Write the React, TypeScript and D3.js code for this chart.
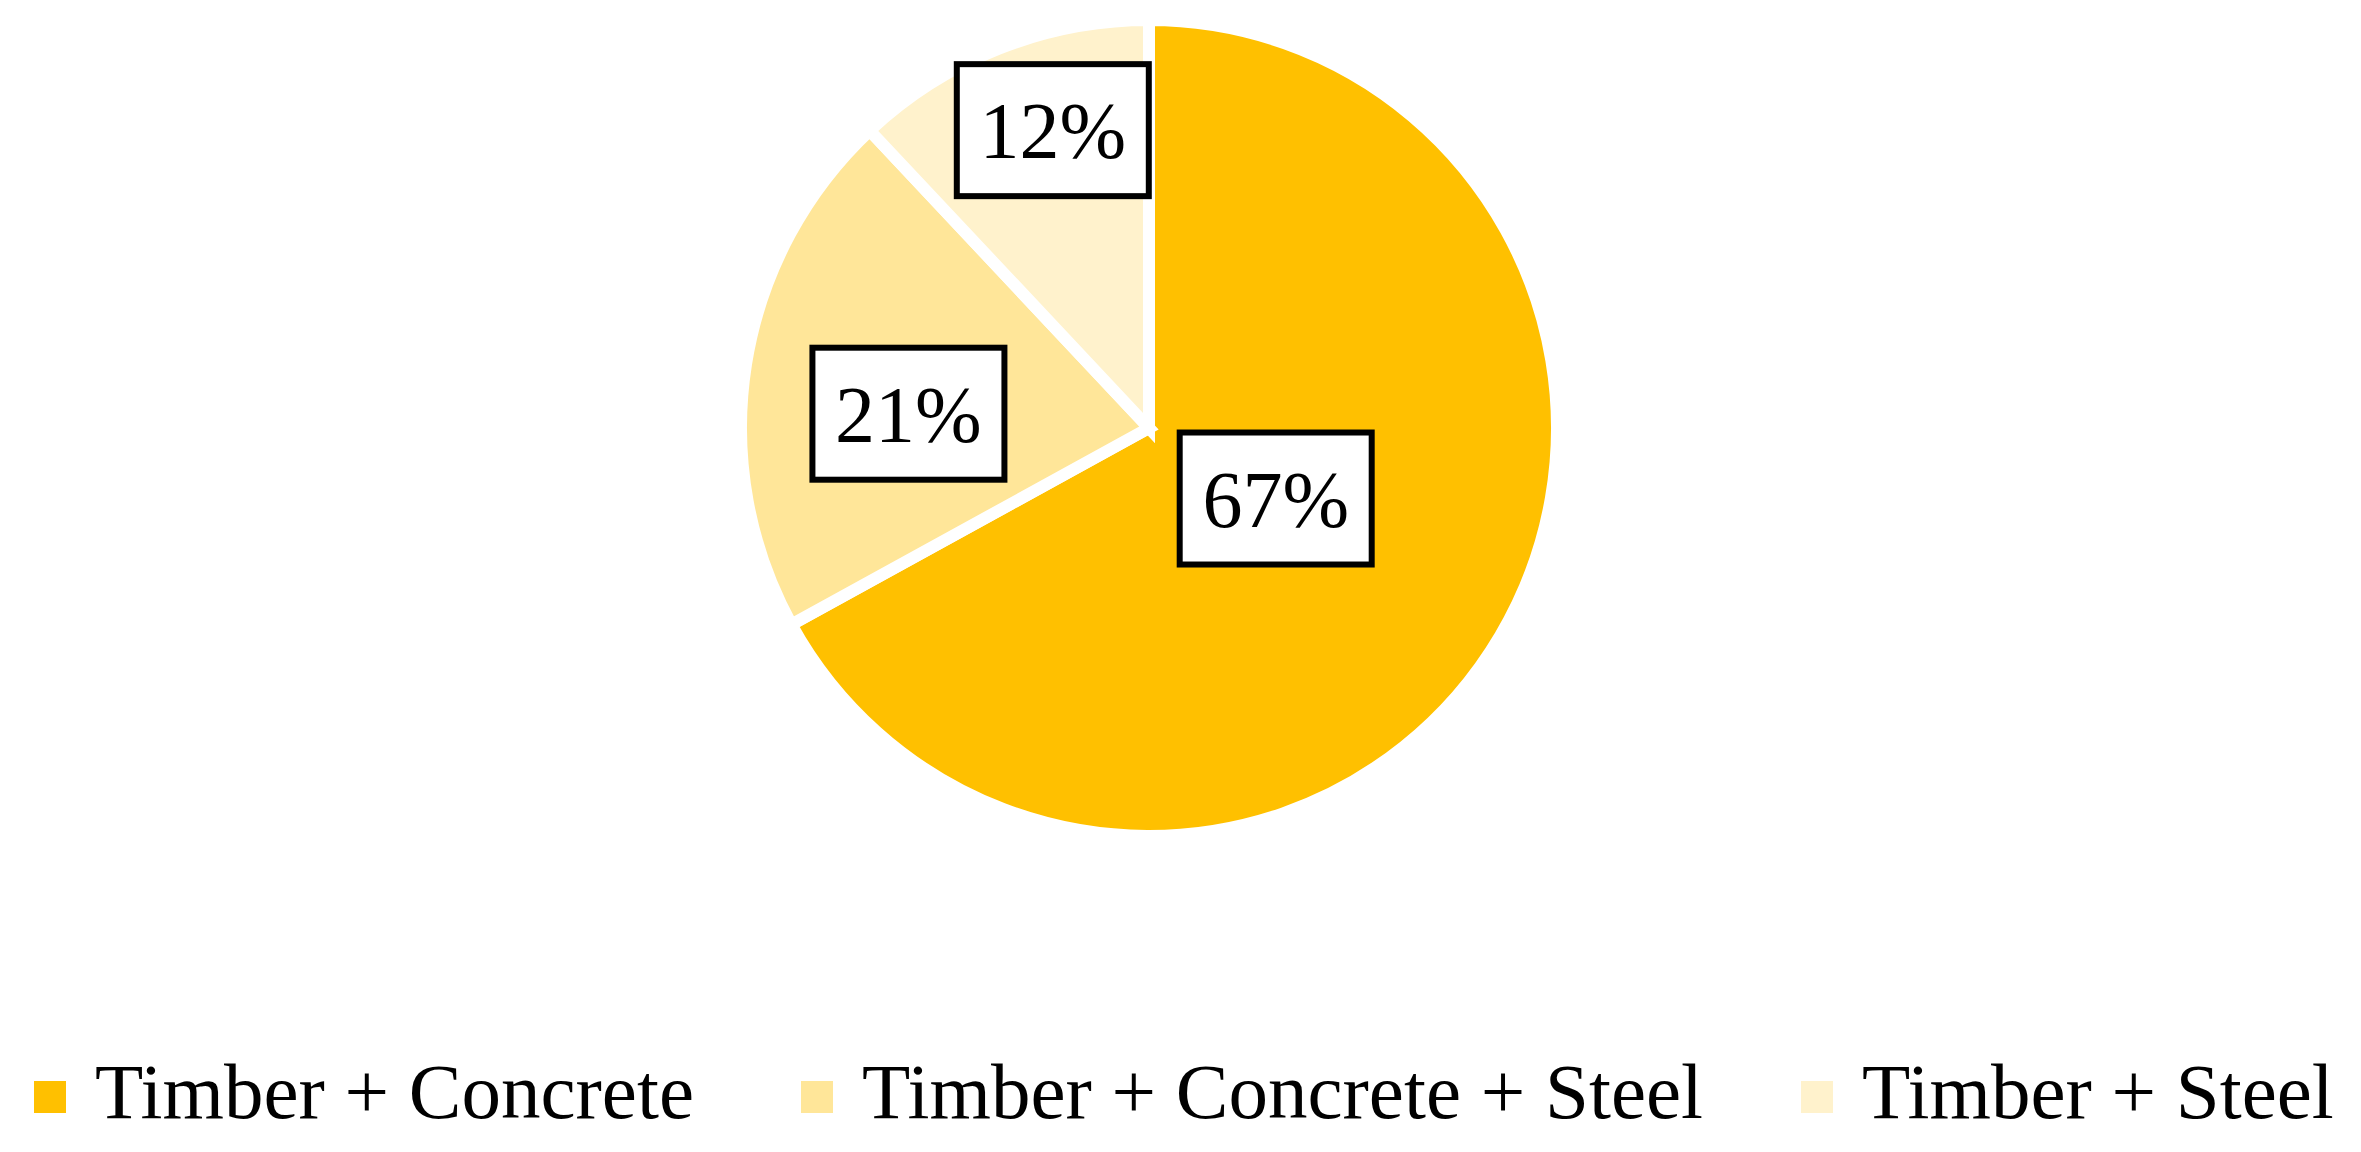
import React from "react";
import * as d3 from "d3";

const categories = ["Timber + Concrete", "Timber + Concrete + Steel", "Timber + Steel"];
const values = [67, 21, 12];
const colors = ["#FFC000", "#FFE699", "#FFF2CC"];

const W = 2361;
const H = 1152;
const cx = 1149;
const cy = 428;
const R = 408;
const SEP = 12;
const labelRadius = [145, 241, 313];
const labelAngleOffsetDeg = [-1.5, -5.6, 3.7];
const boxW = 192;
const boxH = 132;
const FONT = "'Liberation Serif', 'Times New Roman', serif";

const legendX = [34, 801, 1801];

export default function App() {
  const pie = d3.pie<number>().sort(null).value((d) => d)(values);
  const arc = d3.arc<d3.PieArcDatum<number>>().innerRadius(0).outerRadius(R);
  const total = d3.sum(values);

  return (
    <svg
      width={W}
      height={H}
      style={{ position: "absolute", left: 0, top: 0, display: "block", background: "#fff" }}
    >
      <g transform={`translate(${cx},${cy})`}>
        {pie.map((p, i) => (
          <path key={i} d={arc(p) || ""} fill={colors[i]} stroke="#fff" strokeWidth={SEP} strokeLinejoin="miter" />
        ))}
        {pie.map((p, i) => {
          const mid = (p.startAngle + p.endAngle) / 2 + (labelAngleOffsetDeg[i] * Math.PI) / 180;
          const rr = labelRadius[i];
          const lx = rr * Math.sin(mid);
          const ly = -rr * Math.cos(mid);
          return (
            <g key={"l" + i} transform={`translate(${lx},${ly})`}>
              <rect x={-boxW / 2} y={-boxH / 2} width={boxW} height={boxH} fill="#fff" stroke="#000" strokeWidth={6} />
              <text x={0} y={28} textAnchor="middle" fontFamily={FONT} fontSize={80} fill="#000">
                {Math.round((values[i] / total) * 100) + "%"}
              </text>
            </g>
          );
        })}
      </g>
      {categories.map((c, i) => (
        <g key={"lg" + i}>
          <rect x={legendX[i]} y={1081} width={32} height={32} fill={colors[i]} />
          <text x={legendX[i] + 61} y={1118} fontFamily={FONT} fontSize={79} fill="#000">
            {c}
          </text>
        </g>
      ))}
    </svg>
  );
}
